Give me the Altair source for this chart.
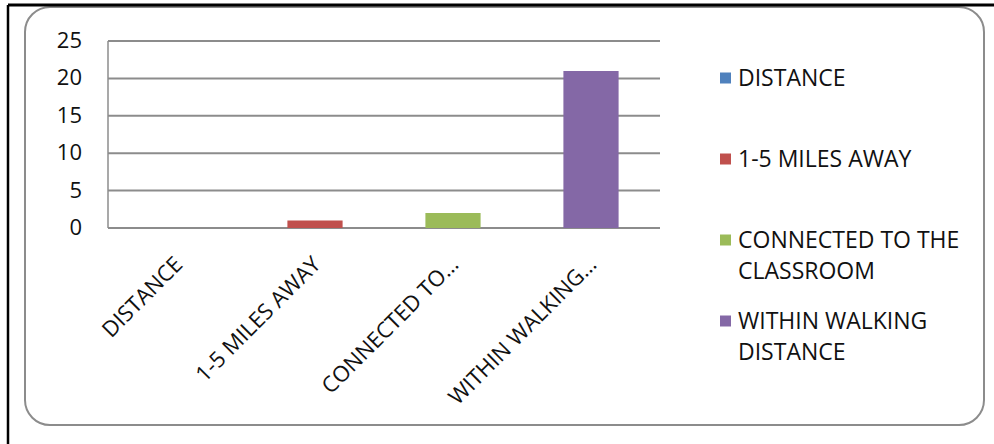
import altair as alt
import pandas as pd

# Survey answers: how far the site is from the classroom
categories = ["DISTANCE", "1-5 MILES AWAY", "CONNECTED TO THE CLASSROOM", "WITHIN WALKING DISTANCE"]
axis_labels = ["DISTANCE", "1-5 MILES AWAY", "CONNECTED TO…", "WITHIN WALKING…"]
legend_labels = ["DISTANCE", "1-5 MILES AWAY", "CONNECTED TO THE\nCLASSROOM", "WITHIN WALKING\nDISTANCE"]
counts = [0, 1, 2, 21]
y_ticks = [0, 5, 10, 15, 20, 25]
palette = ["#4F81BD", "#C0504D", "#9BBB59", "#8468A6"]

# Layout of the framed chart (pixels, relative to the rounded frame)
W, H = 959, 418
PLOT_L, PLOT_R = 83, 635
PLOT_T, PLOT_B = 34, 221
LEGEND_TOP, LEGEND_BOTTOM = 71, 314
FONT = "Open Sans"
FONT_SIZE = 23
TEXT_COLOR = "#111111"
GRID_COLOR = "#8c8c8c"

bars_df = pd.DataFrame({
    "category": categories,
    "label": axis_labels,
    "legend": legend_labels,
    "count": counts,
})
ticks_df = pd.DataFrame({"tick": y_ticks})
frame_df = pd.DataFrame({"edge": [0]})

x_scale = alt.Scale(domain=categories, range=[PLOT_L, PLOT_R], paddingInner=0.6, paddingOuter=0.3)
y_scale = alt.Scale(domain=[0, 25], range=[PLOT_B, PLOT_T], nice=False)
color_scale = alt.Scale(domain=categories, range=palette)
legend_scale = alt.Scale(domain=categories, range=[LEGEND_TOP, LEGEND_BOTTOM], padding=0)

# Horizontal gridlines
grid = alt.Chart(ticks_df).mark_rule(color=GRID_COLOR, strokeWidth=2).encode(
    y=alt.Y("tick:Q", scale=y_scale, axis=None),
    x=alt.value(PLOT_L),
    x2=alt.value(PLOT_R),
)

# Vertical value axis line
axis_line = alt.Chart(ticks_df).mark_rule(color=GRID_COLOR, strokeWidth=1.5).encode(
    x=alt.value(PLOT_L),
    y=alt.Y("min(tick):Q", scale=y_scale, axis=None),
    y2="max(tick):Q",
)

# Value axis labels
y_labels = alt.Chart(ticks_df).mark_text(
    align="right", baseline="middle", font=FONT, fontSize=22, color=TEXT_COLOR
).encode(
    y=alt.Y("tick:Q", scale=y_scale, axis=None),
    x=alt.value(PLOT_L - 26),
    text="tick:Q",
)

bars = alt.Chart(bars_df).mark_bar().encode(
    x=alt.X("category:N", scale=x_scale, sort=categories, axis=None),
    y=alt.Y("count:Q", scale=y_scale, axis=None),
    color=alt.Color("category:N", scale=color_scale, legend=None),
)

# Slanted category labels (dx/dy are applied in the rotated frame)
x_labels = alt.Chart(bars_df).mark_text(
    angle=315, align="right", baseline="middle", font=FONT, fontSize=22,
    color=TEXT_COLOR, dx=-21.9, dy=24.7,
).encode(
    x=alt.X("category:N", scale=x_scale, sort=categories, axis=None),
    y=alt.Y(datum=0, scale=y_scale, axis=None),
    text="label:N",
)

# Legend on the right
legend_swatches = alt.Chart(bars_df).mark_square(size=121, opacity=1).encode(
    x=alt.value(700.5),
    y=alt.Y("category:N", scale=legend_scale, sort=categories, axis=None),
    color=alt.Color("category:N", scale=color_scale, legend=None),
)
legend_text = alt.Chart(bars_df).mark_text(
    align="left", baseline="alphabetic", lineBreak="\n", lineHeight=31,
    font=FONT, fontSize=FONT_SIZE, color=TEXT_COLOR, dy=8,
).encode(
    x=alt.value(713),
    y=alt.Y("category:N", scale=legend_scale, sort=categories, axis=None),
    text="legend:N",
)

# Black page edges at top and left
edge_top = alt.Chart(frame_df).mark_rule(color="black", strokeWidth=3).encode(
    x=alt.value(-17), x2=alt.value(W + 10), y=alt.value(-2)
)
edge_left = alt.Chart(frame_df).mark_rule(color="black", strokeWidth=2.5).encode(
    x=alt.value(-17), y=alt.value(-2), y2=alt.value(H + 19)
)

chart = alt.layer(
    grid, axis_line, y_labels, bars, x_labels, legend_swatches, legend_text, edge_top, edge_left
).resolve_scale(
    y="independent"
).properties(
    width=W,
    height=H,
    autosize=alt.AutoSizeParams(type="none"),
    padding={"left": 25, "top": 7, "right": 10, "bottom": 19},
    background="white",
).configure_view(
    stroke="#8c8c8c",
    strokeWidth=2,
    cornerRadius=25,
    fill="white",
)

chart.save("out.html", embed_options={"renderer": "svg", "actions": False})
